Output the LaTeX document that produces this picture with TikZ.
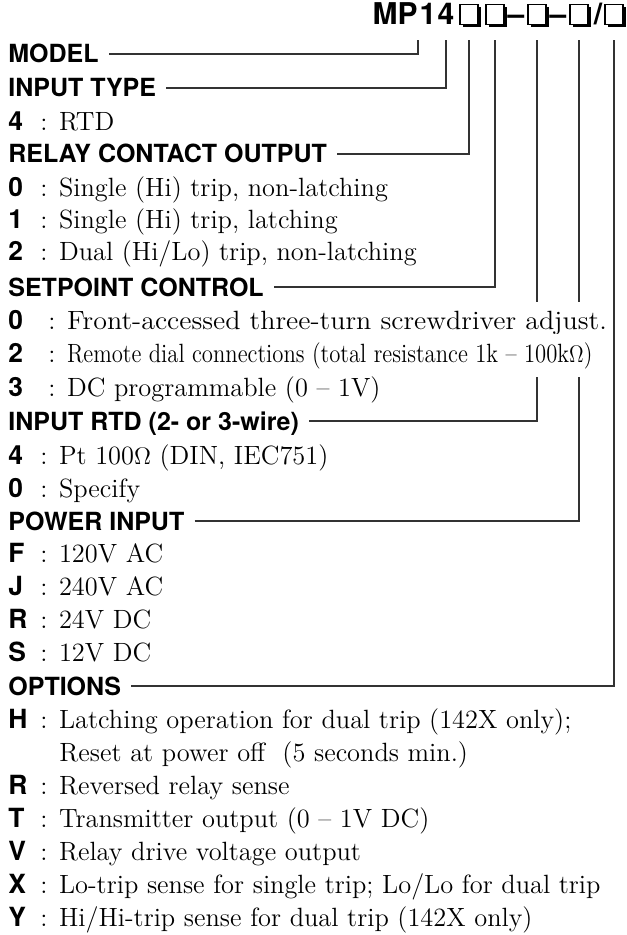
\documentclass[tikz,border=0pt]{standalone}
\usepackage{fontspec}
\setsansfont{TeX Gyre Heros}
\usetikzlibrary{positioning, shadows, backgrounds}
\tikzset{
    section/.style={anchor=base west, font=\fontsize{12.5}{14}\sffamily\bfseries, inner sep=0pt, text height=9pt, text depth=0pt},
    item/.style={anchor=base west, font=\fontsize{13.2}{15}\selectfont, inner sep=0pt},
    mask/.style={item, fill=white, inner ysep=4pt},
    part/.style={anchor=base, font=\fontsize{15}{17}\sffamily\bfseries, inner sep=0pt, text depth=0pt},
    slot/.style={anchor=south, draw, line width=.6pt, fill=white, inner sep=0pt, minimum width=9pt, minimum height=10pt,
        drop shadow={shadow xshift=1.5pt, shadow yshift=-1.5pt, fill=black, opacity=1}},
    tap/.style={draw=black!80, line width=.6pt, shorten <=5pt, shorten >=7.5pt}
}
\newcommand{\code}[2][16pt]{\makebox[#1][l]{\sffamily\bfseries #2}}

\begin{document}
\begin{tikzpicture}[x=0.5pt, y=-0.5pt]
    \useasboundingbox (0,0) rectangle (626,935);

    % model number
    \node (mp) [part, anchor=base east] at (418,25) {MP};
    \node (one) [part] at (428,25) {1};
    \node (four) [part] at (446,25) {4};
    \node (b1) [slot] at (469,25) {};
    \node (b2) [slot] at (495,25) {};
    \node (d1) [part] at (516,25) {--};
    \node (b3) [slot] at (537,25) {};
    \node (d2) [part] at (558,25) {--};
    \node (b4) [slot] at (579,25) {};
    \node (sl) [part] at (598,25) {/};
    \node (b5) [slot] at (614,25) {};

    % fields
    \node (model) [section] at (8,63) {MODEL};
    \node (intype) [section] at (8,97) {INPUT TYPE};
    \node (in4) [item] at (8,131) {\code{4}: RTD};
    \node (relay) [section] at (8,163) {RELAY CONTACT OUTPUT};
    \node (relay0) [item] at (8,197) {\code{0}: Single (Hi) trip, non-latching};
    \node (relay1) [item] at (8,229) {\code{1}: Single (Hi) trip, latching};
    \node (relay2) [item] at (8,261) {\code{2}: Dual (Hi/Lo) trip, non-latching};
    \node (setpt) [section] at (8,296) {SETPOINT CONTROL};
    \node (setpt0) [mask] at (8,329) {\code[20pt]{0}: \scalebox{1.06}[1]{Front-accessed three-turn screwdriver adjust.}};
    \node (setpt2) [mask] at (8,362) {\code[20pt]{2}: \scalebox{0.86}[1]{Remote dial connections (total resistance 1k -- 100k$\Omega$)}};
    \node (setpt3) [item] at (8,396) {\code[20pt]{3}: DC programmable (0 -- 1V)};
    \node (rtd) [section] at (8,430) {INPUT RTD (2- or 3-wire)};
    \node (rtd4) [item] at (8,464) {\code{4}: Pt 100$\Omega$ (DIN, IEC751)};
    \node (rtd0) [item] at (8,497) {\code{0}: Specify};
    \node (power) [section] at (8,530) {POWER INPUT};
    \node (powF) [item] at (8,562) {\code{F}: 120V AC};
    \node (powJ) [item] at (8,595) {\code{J}: 240V AC};
    \node (powR) [item] at (8,628) {\code{R}: 24V DC};
    \node (powS) [item] at (8,661) {\code{S}: 12V DC};
    \node (opts) [section] at (8,695) {OPTIONS};
    \node (optH) [item] at (8,728) {\code{H}: Latching operation for dual trip (142X only);};
    \node (optHb) [item] at (59,761) {Reset at power off~ (5 seconds min.)};
    \node (optR) [item] at (8,794) {\code{R}: Reversed relay sense};
    \node (optT) [item] at (8,827) {\code{T}: Transmitter output (0 -- 1V DC)};
    \node (optV) [item] at (8,860) {\code{V}: Relay drive voltage output};
    \node (optX) [item] at (8,893) {\code{X}: Lo-trip sense for single trip; Lo/Lo for dual trip};
    \node (optY) [item] at (8,926) {\code{Y}: Hi/Hi-trip sense for dual trip (142X only)};

    % leaders
    \begin{scope}[on background layer]
        \draw [tap] (model.east) -| (mp.south east);
        \draw [tap] (intype.east) -| (four.south);
        \draw [tap] (relay.east) -| (b1.south);
        \draw [tap] (setpt.east) -| (b2.south);
        \draw [tap] (rtd.east) -| (b3.south);
        \draw [tap] (power.east) -| (b4.south);
        \draw [tap] (opts.east) -| (b5.south);
    \end{scope}
\end{tikzpicture}
\end{document}
